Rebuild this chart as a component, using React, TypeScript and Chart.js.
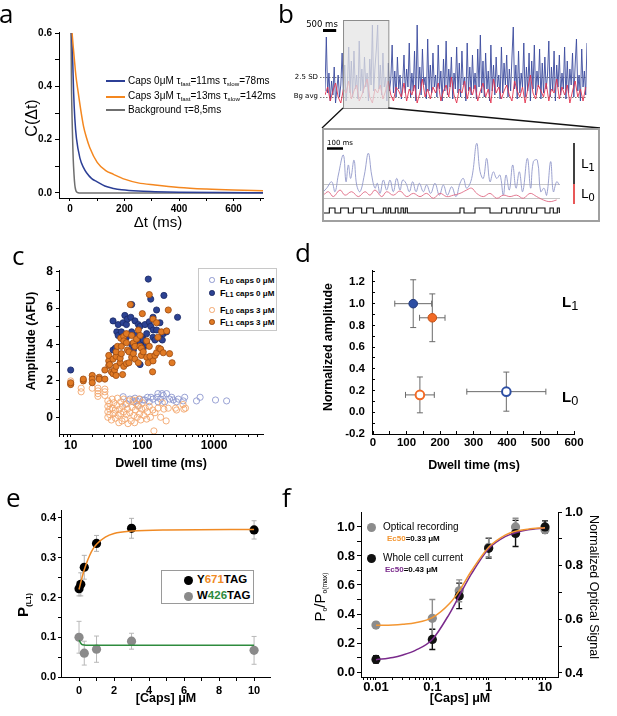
import React, { useEffect, useRef } from "react";
import { Chart, registerables } from "chart.js";

Chart.register(...registerables);
const SANS = "'Liberation Sans', Arial, Helvetica, sans-serif";
const DEJAVU = "'DejaVu Sans', sans-serif";
const OPEN = "'Open Sans', 'DejaVu Sans', sans-serif";
Chart.defaults.font.family = SANS;

// ---------------- Panel a : autocorrelation ----------------
const aTimeTicks = [0, 100, 200, 300, 400, 500, 600, 700];
const aTimeLabels = [0, 200, 400, 600];
const aCTicks = [0, 0.1, 0.2, 0.3, 0.4, 0.5, 0.6];
const aCLabels = [0, 0.2, 0.4, 0.6];
const aCaps0X = [6, 10, 13.5, 18, 24, 37, 50, 61, 80, 100, 128, 160, 190, 250, 312, 400, 550, 710];
const aCaps0Y = [0.6, 0.505, 0.38, 0.28, 0.205, 0.13, 0.095, 0.076, 0.054, 0.042, 0.026, 0.017, 0.012, 0.007, 0.005, 0.003, 0.0015, 0.001];
const aCaps3X = [8, 12, 16, 22, 30, 40, 50, 60, 73, 100, 130, 160, 200, 250, 312, 400, 500, 600, 710];
const aCaps3Y = [0.6, 0.55, 0.505, 0.44, 0.38, 0.31, 0.25, 0.21, 0.17, 0.115, 0.085, 0.07, 0.052, 0.038, 0.03, 0.021, 0.015, 0.011, 0.008];
const aBgX = [4, 5, 6, 8, 10, 12, 15, 18, 21, 24, 30, 40, 710];
const aBgY = [0.6, 0.5, 0.38, 0.28, 0.2, 0.13, 0.07, 0.03, 0.012, 0.005, 0.001, 0, 0];

// ---------------- Panel b : traces ----------------
const bTopBlue = [
  0.3, 3.0, 0.2, 1.2, -0.2, 0.8, 0.1, 1.5, -0.3, 0.4, 1.1, 0.0, 0.6, 2.2, 0.1, 1.6, -0.2, 0.5, 2.5, 0.2,
  1.8, 0.0, 2.3, 0.4, 1.1, -0.1, 2.8, 0.3, 1.4, 0.2, 2.0, 0.5, 1.2, -0.2, 1.9, 0.6, 3.6, 0.3, 1.5, 2.4,
  3.6, 0.4, 1.6, 0.1, 2.2, 0.5, 1.0, -0.2, 1.7, 0.3, 0.9, 2.6, 0.2, 1.3, 0.0, 2.0, 0.4, 1.1, -0.1, 0.7,
  2.1, 0.2, 1.4, 0.5, 2.7, 0.0, 1.2, 0.3, 2.3, -0.2, 3.6, 0.4, 1.5, 0.1, 2.4, 0.6, 1.0, -0.1, 2.9, 0.3,
  1.6, 0.2, 2.2, 0.5, 1.1, 0.0, 2.6, 0.4, 1.3, -0.2, 1.9, 0.3, 2.8, 0.1, 1.4, 0.5, 2.0, -0.1, 1.2, 0.4,
  2.5, 0.2, 1.7, 0.0, 2.3, 0.6, 1.0, -0.2, 2.7, 0.3, 1.5, 0.1, 2.1, 0.4, 1.2, -0.1, 2.4, 0.5, 3.1, 0.2,
  1.8, 0.0, 2.2, 0.4, 1.3, -0.2, 2.6, 0.3, 1.6, 0.1, 2.0, 0.5, 1.1, -0.1, 2.5, 0.2, 1.7, 0.6, 2.1, 0.0,
  1.4, 0.3, 2.0, 3.5, 0.4, 1.6, -0.1, 2.3, 0.2, 1.2, 0.5, 2.7, 0.0, 1.5, 0.3, 2.2, -0.2, 1.8, 0.4, 2.6,
  0.1, 1.3, 0.5, 2.4, -0.1, 1.7, 0.2, 2.0, 0.4, 1.1, 2.8, 0.0, 1.5, 0.3, 2.3, -0.2, 1.6, 0.5, 2.1, 0.1,
  1.2, 0.4, 2.5, -0.1, 1.8, 0.2, 1.4, 0.6, 2.2, 0.0, 1.6, 2.9, 0.3, 1.1, -0.2, 2.4, 0.5, 1.3, 0.1, 2.7,
];
const bTopRed = [
  0.1, 0.5, -0.2, 0.3, 0.7, 0.0, -0.3, 0.4, 0.2, 0.8, -0.1, 0.3, 0.6, -0.2, 0.1, 0.5, 0.9, 0.0, -0.3, 0.4,
  0.2, 0.6, -0.1, 0.3, 0.8, 0.1, -0.2, 0.5, 0.3, 0.0, 0.7, -0.2, 0.4, 0.1, 0.6, -0.3, 0.2, 0.9, 0.0, 0.4,
  -0.1, 0.5, 0.2, 0.7, -0.2, 0.3, 0.6, 0.0, 1.0, 0.1, -0.3, 0.4, 0.2, 0.8, -0.1, 0.5, 0.1, 0.6, -0.2, 0.3,
  0.7, 0.0, 0.4, -0.3, 0.9, 0.2, 0.5, -0.1, 0.3, 0.6, 0.1, -0.2, 0.8, 0.3, 0.0, 0.5, -0.3, 0.4, 1.1, 0.2,
  -0.1, 0.6, 0.3, 0.0, 0.7, -0.2, 0.4, 0.2, 0.9, -0.1, 0.5, 0.1, 0.6, -0.3, 0.3, 0.8, 0.0, 0.4, -0.2, 0.5,
];
const bRedSpacing = 2;
const bLevels = [0, 1]; // Bg avg, 2.5 SD
const bZoomWindow = [13.7, 48.1];
const bScaleBar500 = [-1.5, 8.5];

const bInsetBlueX = [10, 20, 35, 45, 55, 70, 78, 85, 92, 102, 110, 120, 133, 145, 155, 165, 172, 180, 190, 200, 210, 220, 230, 240, 248, 258, 268, 278, 288, 298, 310, 320, 332, 345, 358, 370, 382, 395, 408, 420, 430, 440, 455, 470, 480, 490, 500, 510, 520, 530, 540, 550, 558, 568, 578, 588, 598, 608, 622, 632, 640, 652, 662, 672, 680, 692, 700, 710, 718];
const bInsetBlueY = [0.45, 0.7, 1.16, 0.45, 1.64, 3.07, 1.16, 2.36, 1.4, 2.7, 0.93, 0.45, 1.64, 3.2, 1.64, 0.7, 1.05, 0.33, 1.28, 0.57, 1.28, 0.45, 1.4, 0.57, 1.28, 1.05, 0.45, 1.16, 0.45, 1.05, 0.45, 0.93, 0.33, 1.05, 0.2, 0.93, 0.2, 0.8, 0.1, 1.05, 1.4, 0.7, 1.4, 3.9, 1.9, 1.4, 2.83, 1.16, 1.87, 1.4, 1.64, 0.2, 1.64, 0.57, 2.36, 0.7, 1.87, 0.45, 2.83, 0.7, 2.6, 2.7, 0.45, 0.7, 0.2, 2.6, 0.45, 1.16, 0.93];
const bInsetRedX = [10, 25, 40, 60, 75, 95, 115, 135, 150, 165, 185, 200, 220, 240, 260, 280, 300, 320, 340, 360, 380, 400, 420, 440, 455, 470, 490, 510, 530, 550, 570, 590, 610, 630, 650, 670, 690, 710];
const bInsetRedY = [0.2, 0.45, 0.1, 0.57, 0.2, 0.45, 0.1, 0.45, 0.2, 0.57, 0.1, 0.45, 0.2, 0.5, 0.1, 0.33, 0.1, 0.33, -0.02, 0.33, 0.1, 0.2, 0.33, 0.57, 0.7, 0.33, 0.1, 0.33, -0.02, 0.2, 0.1, 0.2, -0.02, 0.33, 0.1, -0.14, -0.26, -0.14];
const bStepX = [12, 28, 45, 62, 85, 100, 125, 140, 160, 190, 198, 205, 212, 226, 234, 243, 250, 256, 262, 420, 432, 465, 510, 545, 560, 575, 590, 600, 612, 620, 635, 650, 675, 690, 700, 712, 718];
const bStepLevel = [0, 1, 0, 1, 0, 1, 0, 1, 0, 1, 0, 1, 0, 1, 0, 1, 0, 1, 0, 1, 0, 1, 0, 1, 0, 1, 0, 1, 0, 1, 0, 1, 0, 1, 0, 1, 0];
const bInsetL1Bar = [1, 3.93];
const bInsetL0Bar = [-0.43, 1];
const bScaleBar100 = [21, 69];

// ---------------- Panel c : amplitude vs dwell ----------------
const cDwellTicks = [7, 8, 9, 10, 20, 30, 40, 50, 60, 70, 80, 90, 100, 200, 300, 400, 500, 600, 700, 800, 900, 1000, 2000, 3000, 4000];
const cDwellLabels = [10, 100, 1000];
const cAmpTicks = [0, 1, 2, 3, 4, 5, 6, 7, 8];
const cAmpLabels = [0, 2, 4, 6, 8];
const cL1Caps0 = [[10, 2.6], [39, 5.3], [39, 3.7], [42, 3.8], [44, 4.7], [46, 4.5], [46, 5.1], [51, 4.7], [51, 4.4], [54, 5.2], [57, 5.6], [60, 5.1], [60, 4.4], [62, 5.4], [69, 5.5], [71, 6.2], [71, 4.7], [71, 4.0], [75, 3.7], [79, 5.3], [83, 4.5], [83, 4.1], [88, 5.1], [93, 5.0], [93, 2.9], [94, 4.1], [100, 4.4], [103, 3.8], [103, 4.25], [109, 5.1], [113, 4.1], [115, 4.6], [115, 4.0], [121, 7.6], [125, 5.25], [131, 6.5], [131, 5.0], [141, 4.4], [141, 5.5], [142, 4.8], [150, 4.25], [158, 5.9], [158, 4.8], [176, 5.2], [176, 4.35], [190, 4.25], [196, 4.6], [200, 6.7], [218, 4.7], [310, 5.5]];
const cL1Caps3 = [[10, 1.8], [10, 1.9], [15, 2.0], [15, 2.1], [20, 2.3], [20, 2.1], [20, 1.9], [25, 2.2], [25, 2.1], [30, 2.1], [30, 2.6], [34, 3.1], [34, 2.85], [34, 3.4], [35, 2.9], [37, 2.5], [39, 2.4], [39, 3.2], [41, 2.6], [43, 2.3], [43, 2.8], [43, 3.35], [43, 3.6], [45, 3.9], [49, 3.0], [49, 3.25], [50, 4.35], [51, 3.5], [51, 3.9], [53, 2.35], [55, 4.45], [55, 4.2], [55, 2.8], [60, 4.1], [60, 4.6], [60, 2.95], [62, 3.7], [65, 3.0], [65, 3.6], [68, 6.2], [71, 3.3], [71, 4.5], [75, 3.5], [75, 4.1], [79, 3.9], [79, 3.2], [83, 4.3], [88, 4.8], [88, 3.0], [93, 3.9], [93, 4.5], [97, 3.4], [97, 3.8], [100, 5.7], [103, 3.6], [115, 3.3], [115, 4.2], [121, 3.0], [125, 3.9], [125, 6.75], [128, 3.35], [139, 2.5], [141, 3.1], [141, 5.4], [150, 3.4], [158, 3.55], [158, 5.2], [165, 4.4], [170, 3.8], [180, 3.75], [185, 4.7], [196, 3.55], [218, 4.75], [230, 5.9], [240, 3.5], [260, 3.0]];
const cL0Caps3 = [[10, 2.0], [10, 1.85], [14, 1.6], [14, 1.4], [20, 1.6], [24, 1.6], [24, 1.45], [24, 1.3], [24, 1.15], [30, 1.55], [30, 1.4], [30, 1.2], [33, 0.9], [33, 0.6], [33, 0.3], [33, 0.0], [35, 0.75], [35, 0.45], [35, 0.15], [37, -0.15], [38, 1.0], [38, 0.5], [40, 0.2], [40, 0.8], [42, -0.05], [42, 0.4], [44, 0.65], [45, 1.05], [46, 0.1], [47, -0.3], [48, 0.45], [50, 0.85], [50, 0.2], [52, -0.2], [53, 0.6], [55, 1.0], [55, 0.3], [57, -0.1], [58, 0.7], [60, 0.15], [62, 0.45], [63, -0.35], [65, 0.9], [67, 0.25], [70, -0.2], [72, 0.55], [74, 0.95], [76, 0.1], [78, -0.3], [80, 0.4], [82, 0.75], [85, 0.0], [88, 0.6], [90, 1.0], [92, 0.2], [95, -0.15], [98, 0.45], [100, 0.8], [105, 0.1], [110, 0.5], [115, -0.1], [118, 0.3], [125, 0.6], [130, 0.0], [140, 0.4], [145, -0.75], [150, 0.25], [165, 0.5], [180, 0.0], [190, 0.8], [200, 0.45], [215, -0.2], [230, 0.5], [290, 0.5], [300, 0.4], [370, 0.7], [380, 0.45], [400, 0.5]];
const cL0Caps0 = [[54, 1.13], [60, 0.75], [67, 1.0], [75, 0.85], [79, 1.05], [83, 0.9], [88, 0.65], [92, 1.0], [103, 0.95], [108, 0.95], [118, 1.1], [125, 0.85], [132, 1.1], [141, 1.0], [160, 1.1], [165, 1.3], [166, 0.85], [180, 1.0], [188, 1.3], [196, 1.2], [205, 0.85], [218, 1.3], [240, 1.0], [257, 1.1], [270, 0.95], [300, 0.85], [318, 1.0], [372, 0.9], [390, 1.1], [570, 0.9], [640, 1.1], [1050, 0.95], [1500, 0.9]];

// ---------------- Panel d : normalized amplitude ----------------
const dTimeTicks = [0, 50, 100, 150, 200, 250, 300, 350, 400, 450, 500, 550, 600];
const dTimeLabels = [0, 100, 200, 300, 400, 500, 600];
const dAmpTicks = [-0.2, -0.1, 0, 0.1, 0.2, 0.3, 0.4, 0.5, 0.6, 0.7, 0.8, 0.9, 1.0, 1.1, 1.2, 1.3];
const dAmpLabels = [-0.2, 0, 0.2, 0.4, 0.6, 0.8, 1.0, 1.2];
const dDwell = [120, 177, 140, 398];
const dDwellErr = [55, 38, 43, 118];
const dAmp = [1.0, 0.87, 0.16, 0.19];
const dAmpErr = [0.22, 0.22, 0.165, 0.18];

// ---------------- Panel e : P(L1) ----------------
const eCapsTicks = [0, 1, 2, 3, 4, 5, 6, 7, 8, 9, 10];
const eCapsLabels = [0, 2, 4, 6, 8, 10];
const ePTicks = [0, 0.05, 0.1, 0.15, 0.2, 0.25, 0.3, 0.35, 0.4];
const ePLabels = [0, 0.1, 0.2, 0.3, 0.4];
const eCapsY = [0, 0.1, 0.3, 1, 3, 10];
const eY671 = [0.222, 0.233, 0.276, 0.336, 0.374, 0.37];
const eY671Err = [0.018, 0.029, 0.03, 0.02, 0.025, 0.023];
const eCapsW = [0, 0.3, 1, 3, 10];
const eW426 = [0.1, 0.06, 0.07, 0.09, 0.067];
const eW426Err = [0.04, 0.03, 0.033, 0.02, 0.035];
const eFitYX = [0, 0.1, 0.2, 0.4, 0.6, 0.8, 1, 1.5, 2, 3, 5, 10];
const eFitY = [0.22, 0.238, 0.255, 0.283, 0.305, 0.322, 0.334, 0.352, 0.361, 0.367, 0.37, 0.371];
const eFitWX = [0, 0.1, 0.2, 0.4, 10];
const eFitW = [0.093, 0.085, 0.081, 0.08, 0.08];

// ---------------- Panel f : dose response ----------------
const fCapsTicks = [0.006, 0.007, 0.008, 0.009, 0.01, 0.02, 0.03, 0.04, 0.05, 0.06, 0.07, 0.08, 0.09, 0.1, 0.2, 0.3, 0.4, 0.5, 0.6, 0.7, 0.8, 0.9, 1, 2, 3, 4, 5, 6, 7, 8, 9, 10];
const fCapsLabels = [0.01, 0.1, 1, 10];
const fPTicks = [0, 0.1, 0.2, 0.3, 0.4, 0.5, 0.6, 0.7, 0.8, 0.9, 1.0];
const fPLabels = [0, 0.2, 0.4, 0.6, 0.8, 1.0];
const fSigTicks = [0.4, 0.5, 0.6, 0.7, 0.8, 0.9, 1.0];
const fSigLabels = [0.4, 0.6, 0.8, 1.0];
const fCaps = [0.01, 0.1, 0.3, 1, 3, 10];
const fOptical = [0.324, 0.37, 0.56, 0.86, 1.0, 0.98];
const fOpticalErr = [0.02, 0.13, 0.075, 0.065, 0.06, 0.02];
const fCurrent = [0.087, 0.225, 0.525, 0.853, 0.955, 1.0];
const fCurrentErr = [0.025, 0.07, 0.088, 0.068, 0.09, 0.042];
const fFitX = [0.01, 0.02, 0.03, 0.05, 0.1, 0.2, 0.3, 0.5, 1, 2, 3, 5, 10];
const fFitOptical = [0.322, 0.325, 0.33, 0.34, 0.375, 0.47, 0.56, 0.7, 0.86, 0.945, 0.97, 0.985, 0.995];
const fFitCurrent = [0.085, 0.1, 0.118, 0.15, 0.225, 0.4, 0.525, 0.68, 0.85, 0.935, 0.96, 0.98, 0.993];

// ---------------- helpers ----------------
type Area = { cx: number; cy: number; cw: number; ch: number; l: number; t: number; r: number; b: number };
const AREA: Record<string, Area> = {
  a: { cx: 0, cy: 20, cw: 300, ch: 215, l: 59, t: 32, r: 263, b: 198 },
  c: { cx: 0, cy: 240, cw: 300, ch: 235, l: 59, t: 270, r: 263, b: 434 },
  d: { cx: 300, cy: 240, cw: 317, ch: 235, l: 372, t: 270, r: 574, b: 434 },
  e: { cx: 0, cy: 480, cw: 300, ch: 236, l: 61, t: 510, r: 270, b: 677 },
  f: { cx: 300, cy: 480, cw: 317, ch: 236, l: 361, t: 512, r: 558, b: 677 },
};

const pick = (labels: number[], fmt: (v: number) => string) => (v: any) => {
  const n = Number(v);
  return labels.some((l) => Math.abs(l - n) < 1e-9) ? fmt(n) : "";
};
const fitY = (w: number) => (s: any) => { s.width = w; s.paddingTop = 0; s.paddingBottom = 0; };
const fitX = (h: number) => (s: any) => { s.height = h; s.paddingLeft = 0; s.paddingRight = 0; };

function ax(o: any) {
  return {
    type: o.type || "linear",
    position: o.position,
    min: o.min,
    max: o.max,
    afterBuildTicks: (s: any) => { s.ticks = o.ticks.map((v: number) => ({ value: v })); },
    afterFit: o.fit,
    grid: { display: true, drawOnChartArea: false, drawTicks: true, tickLength: o.tl ?? 4, color: "#000", lineWidth: 1 },
    border: { display: true, color: "#000", width: 1 },
    ticks: {
      autoSkip: false, maxRotation: 0, minRotation: 0, padding: o.pad ?? 2, color: "#000",
      font: { family: SANS, size: o.size, weight: "bold" }, callback: o.label,
    },
  };
}

function baseOpts(a: Area, rightAxis: boolean, scales: any, plugins: any = {}) {
  return {
    responsive: false, maintainAspectRatio: false, animation: false, events: [],
    layout: { padding: { left: 0, bottom: 0, top: a.t - a.cy, right: rightAxis ? 0 : a.cx + a.cw - a.r } },
    plugins: { legend: { display: false }, tooltip: { enabled: false }, ...plugins },
    scales,
  };
}

const pts = (xs: number[], ys: number[]) => xs.map((x, i) => ({ x, y: ys[i] }));
const curve = (xs: number[], ys: number[], color: string, order: number, extra: any = {}) => ({
  data: pts(xs, ys), showLine: true, borderColor: color, borderWidth: 1.5, pointRadius: 0,
  cubicInterpolationMode: "monotone", fill: false, order, ...extra,
});

const errorBars = {
  id: "errorBars",
  beforeDatasetsDraw(chart: any) {
    const { ctx } = chart;
    chart.data.datasets.forEach((ds: any, i: number) => {
      if (!ds.yErr && !ds.xErr) return;
      const meta = chart.getDatasetMeta(i);
      const xs = chart.scales[meta.xAxisID];
      const ys = chart.scales[meta.yAxisID];
      const cap = ds.errCap ?? 3;
      ctx.save();
      ctx.strokeStyle = ds.errColor || "#777";
      ctx.lineWidth = ds.errWidth || 1;
      ds.data.forEach((p: any, j: number) => {
        const px = xs.getPixelForValue(p.x);
        const py = ys.getPixelForValue(p.y);
        ctx.beginPath();
        if (ds.yErr) {
          const t = ys.getPixelForValue(p.y + ds.yErr[j]);
          const b = ys.getPixelForValue(p.y - ds.yErr[j]);
          ctx.moveTo(px, t); ctx.lineTo(px, b);
          ctx.moveTo(px - cap, t); ctx.lineTo(px + cap, t);
          ctx.moveTo(px - cap, b); ctx.lineTo(px + cap, b);
        }
        if (ds.xErr) {
          const l = xs.getPixelForValue(p.x - ds.xErr[j]);
          const r = xs.getPixelForValue(p.x + ds.xErr[j]);
          ctx.moveTo(l, py); ctx.lineTo(r, py);
          ctx.moveTo(l, py - cap); ctx.lineTo(l, py + cap);
          ctx.moveTo(r, py - cap); ctx.lineTo(r, py + cap);
        }
        ctx.stroke();
      });
      ctx.restore();
    });
  },
};

// ---------------- chart configs ----------------
function cfgA() {
  const a = AREA.a;
  return {
    type: "scatter",
    data: {
      datasets: [
        curve(aCaps3X, aCaps3Y, "#f4871f", 0),
        curve(aCaps0X, aCaps0Y, "#2c3f96", 1),
        curve(aBgX, aBgY, "#6f6f6f", 2, { cubicInterpolationMode: "default", tension: 0.3 }),
      ],
    },
    options: baseOpts(a, false, {
      x: ax({ position: "bottom", min: -40, max: 708, ticks: aTimeTicks, label: pick(aTimeLabels, (v) => String(v)), size: 10, tl: 3, pad: 2, fit: fitX(a.cy + a.ch - a.b) }),
      y: ax({ position: "left", min: -0.0188, max: 0.604, ticks: aCTicks, label: pick(aCLabels, (v) => v.toFixed(1)), size: 10, tl: 4, pad: 3, fit: fitY(a.l - a.cx) }),
    }),
  };
}

function cfgBTop() {
  const plugin = {
    id: "bTop",
    beforeDatasetsDraw(chart: any) {
      const { ctx, chartArea: ca, scales } = chart;
      ctx.save();
      ctx.strokeStyle = "#555";
      ctx.lineWidth = 0.8;
      ctx.setLineDash([1.5, 1.5]);
      bLevels.forEach((v) => {
        const py = Math.round(scales.y.getPixelForValue(v)) + 0.5;
        ctx.beginPath(); ctx.moveTo(ca.left - 5, py); ctx.lineTo(ca.right, py); ctx.stroke();
      });
      ctx.restore();
    },
    afterDatasetsDraw(chart: any) {
      const { ctx, chartArea: ca, scales } = chart;
      const x0 = scales.x.getPixelForValue(bZoomWindow[0]);
      const x1 = scales.x.getPixelForValue(bZoomWindow[1]);
      ctx.save();
      ctx.fillStyle = "rgba(228,228,228,0.74)";
      ctx.fillRect(x0, ca.top, x1 - x0, ca.bottom - ca.top);
      ctx.strokeStyle = "#8c8c8c";
      ctx.lineWidth = 1;
      ctx.strokeRect(x0 + 0.5, ca.top + 0.5, x1 - x0, ca.bottom - ca.top);
      ctx.strokeStyle = "#111";
      ctx.lineWidth = 1.3;
      ctx.beginPath();
      ctx.moveTo(x0, ca.bottom); ctx.lineTo(22, 128);
      ctx.moveTo(x1, ca.bottom); ctx.lineTo(300, 128);
      ctx.stroke();
      ctx.strokeStyle = "#a0a0a0";
      ctx.lineWidth = 2;
      ctx.strokeRect(23, 129, 276, 92);
      ctx.strokeStyle = "#000";
      ctx.lineWidth = 3;
      ctx.beginPath();
      ctx.moveTo(scales.x.getPixelForValue(bScaleBar500[0]), 30.5);
      ctx.lineTo(scales.x.getPixelForValue(bScaleBar500[1]), 30.5);
      ctx.stroke();
      ctx.restore();
    },
  };
  return {
    type: "scatter",
    data: {
      datasets: [
        { data: bTopRed.map((v, i) => ({ x: i * bRedSpacing, y: v })), showLine: true, borderColor: "#e3334f", borderWidth: 0.9, pointRadius: 0, order: 0 },
        { data: bTopBlue.map((v, i) => ({ x: i, y: v })), showLine: true, borderColor: "#3b4b9e", borderWidth: 0.9, pointRadius: 0, order: 1 },
      ],
    },
    options: {
      responsive: false, maintainAspectRatio: false, animation: false, events: [],
      layout: { padding: { left: 25, top: 20, right: 30, bottom: 124 } },
      plugins: { legend: { display: false }, tooltip: { enabled: false } },
      scales: {
        x: { type: "linear", display: false, min: 0, max: 199 },
        y: { type: "linear", display: false, min: -0.55, max: 3.85 },
      },
    },
    plugins: [plugin],
  };
}

function cfgBInset() {
  const plugin = {
    id: "bInset",
    beforeDatasetsDraw(chart: any) {
      const { ctx, chartArea: ca, scales } = chart;
      ctx.save();
      ctx.strokeStyle = "#b8b8b8";
      ctx.lineWidth = 0.8;
      bLevels.forEach((v) => {
        const py = Math.round(scales.y.getPixelForValue(v)) + 0.5;
        ctx.beginPath(); ctx.moveTo(ca.left, py); ctx.lineTo(ca.right, py); ctx.stroke();
      });
      ctx.restore();
    },
    afterDatasetsDraw(chart: any) {
      const { ctx, chartArea: ca, scales } = chart;
      const bx = ca.right + 14;
      ctx.save();
      ctx.lineWidth = 1.5;
      ctx.strokeStyle = "#000";
      ctx.beginPath();
      ctx.moveTo(bx, scales.y.getPixelForValue(bInsetL1Bar[0]));
      ctx.lineTo(bx, scales.y.getPixelForValue(bInsetL1Bar[1]));
      ctx.stroke();
      ctx.strokeStyle = "#e02020";
      ctx.beginPath();
      ctx.moveTo(bx, scales.y.getPixelForValue(bInsetL0Bar[0]));
      ctx.lineTo(bx, scales.y.getPixelForValue(bInsetL0Bar[1]));
      ctx.stroke();
      ctx.strokeStyle = "#000";
      ctx.lineWidth = 2.5;
      ctx.beginPath();
      ctx.moveTo(scales.x.getPixelForValue(bScaleBar100[0]), 17.5);
      ctx.lineTo(scales.x.getPixelForValue(bScaleBar100[1]), 17.5);
      ctx.stroke();
      ctx.restore();
    },
  };
  return {
    type: "scatter",
    data: {
      datasets: [
        { data: pts(bStepX, bStepLevel), showLine: true, stepped: "before", borderColor: "#111", borderWidth: 1.1, pointRadius: 0, yAxisID: "ys", order: 0 },
        { data: pts(bInsetRedX, bInsetRedY), showLine: true, borderColor: "#e06a85", borderWidth: 0.9, pointRadius: 0, tension: 0.4, order: 1 },
        { data: pts(bInsetBlueX, bInsetBlueY), showLine: true, borderColor: "#9197c9", borderWidth: 0.9, pointRadius: 0, tension: 0.4, order: 2 },
      ],
    },
    options: {
      responsive: false, maintainAspectRatio: false, animation: false, events: [],
      layout: { padding: { left: 0, top: 7, right: 38, bottom: 4 } },
      plugins: { legend: { display: false }, tooltip: { enabled: false } },
      scales: {
        x: { type: "linear", display: false, min: 12, max: 720 },
        y: { type: "linear", display: false, min: -1.286, max: 4.286 },
        ys: { type: "linear", display: false, min: -0.6, max: 15 },
      },
    },
    plugins: [plugin],
  };
}

function cfgC() {
  const a = AREA.c;
  const sc = (data: number[][], fill: string, stroke: string, order: number, bw: number) => ({
    data: data.map(([x, y]) => ({ x, y })), pointRadius: 3.1, pointBackgroundColor: fill, pointBorderColor: stroke, pointBorderWidth: bw, order,
  });
  return {
    type: "scatter",
    data: {
      datasets: [
        sc(cL1Caps3, "#e07a24", "#9a4a12", 0, 0.8),
        sc(cL1Caps0, "#2c4292", "#1b2a66", 1, 0.8),
        sc(cL0Caps3, "rgba(0,0,0,0)", "#f3a76e", 2, 0.9),
        sc(cL0Caps0, "rgba(0,0,0,0)", "#8e98cf", 3, 0.9),
      ],
    },
    options: baseOpts(a, false, {
      x: ax({ type: "logarithmic", position: "bottom", min: 6.87, max: 4830, ticks: cDwellTicks, label: pick(cDwellLabels, (v) => String(v)), size: 12, tl: 3, pad: 1, fit: fitX(a.cy + a.ch - a.b) }),
      y: ax({ position: "left", min: -0.92, max: 8.1, ticks: cAmpTicks, label: pick(cAmpLabels, (v) => String(v)), size: 12, tl: 3, pad: 3, fit: fitY(a.l - a.cx) }),
    }),
  };
}

function cfgD() {
  const a = AREA.d;
  const styles = [
    { fill: "#2d4ea3", stroke: "#22397a" },
    { fill: "#f26a26", stroke: "#c44f12" },
    { fill: "#ffffff", stroke: "#f26a26" },
    { fill: "#ffffff", stroke: "#2d4ea3" },
  ];
  return {
    type: "scatter",
    data: {
      datasets: dDwell.map((x, i) => ({
        data: [{ x, y: dAmp[i] }], xErr: [dDwellErr[i]], yErr: [dAmpErr[i]], errColor: "#6a6a6a", errCap: 3,
        pointRadius: 4.3, pointBackgroundColor: styles[i].fill, pointBorderColor: styles[i].stroke, pointBorderWidth: i >= 2 ? 2 : 1,
      })),
    },
    options: baseOpts(a, false, {
      x: ax({ position: "bottom", min: -3, max: 600, ticks: dTimeTicks, label: pick(dTimeLabels, (v) => String(v)), size: 11.5, tl: -3, pad: 5, fit: fitX(a.cy + a.ch - a.b) }),
      y: ax({ position: "left", min: -0.2, max: 1.31, ticks: dAmpTicks, label: pick(dAmpLabels, (v) => v.toFixed(1)), size: 11.5, tl: -3, pad: 10, fit: fitY(a.l - a.cx) }),
    }),
    plugins: [errorBars],
  };
}

function cfgE() {
  const a = AREA.e;
  return {
    type: "scatter",
    data: {
      datasets: [
        curve(eFitYX, eFitY, "#f08a24", 0),
        curve(eFitWX, eFitW, "#2e8b3e", 1),
        { data: pts(eCapsY, eY671), yErr: eY671Err, errColor: "#b0b0b0", errCap: 2.5, pointRadius: 4.6, pointBackgroundColor: "#000", pointBorderColor: "#000", pointBorderWidth: 0, order: 2 },
        { data: pts(eCapsW, eW426), yErr: eW426Err, errColor: "#b8b8b8", errCap: 2.5, pointRadius: 4.6, pointBackgroundColor: "#8a8a8a", pointBorderColor: "#8a8a8a", pointBorderWidth: 0, order: 3 },
      ],
    },
    options: baseOpts(a, false, {
      x: ax({ position: "bottom", min: -1.03, max: 10.91, ticks: eCapsTicks, label: pick(eCapsLabels, (v) => String(v)), size: 11, tl: 4, pad: 3, fit: fitX(a.cy + a.ch - a.b) }),
      y: ax({ position: "left", min: 0, max: 0.42, ticks: ePTicks, label: pick(ePLabels, (v) => v.toFixed(1)), size: 11, tl: 3, pad: 2, fit: fitY(a.l - a.cx) }),
    }),
    plugins: [errorBars],
  };
}

function cfgF() {
  const a = AREA.f;
  return {
    type: "scatter",
    data: {
      datasets: [
        curve(fFitX, fFitOptical, "#f39632", 0),
        curve(fFitX, fFitCurrent, "#7a2a8c", 1),
        { data: pts(fCaps, fCurrent), yErr: fCurrentErr, errColor: "#111", errWidth: 1.4, errCap: 3, pointRadius: 4.6, pointBackgroundColor: "#111", pointBorderColor: "#111", pointBorderWidth: 0, order: 2 },
        { data: pts(fCaps, fOptical), yErr: fOpticalErr, errColor: "#8f8f8f", errWidth: 1.4, errCap: 3, pointRadius: 4.6, pointBackgroundColor: "#8c8c8c", pointBorderColor: "#8c8c8c", pointBorderWidth: 0, order: 3 },
      ],
    },
    options: baseOpts(a, true, {
      x: ax({ type: "logarithmic", position: "bottom", min: 0.00542, max: 17, ticks: fCapsTicks, label: pick(fCapsLabels, (v) => String(v)), size: 13, tl: 3, pad: 0, fit: fitX(a.cy + a.ch - a.b) }),
      y: ax({ position: "left", min: -0.034, max: 1.103, ticks: fPTicks, label: pick(fPLabels, (v) => v.toFixed(1)), size: 13, tl: 4, pad: 2, fit: fitY(a.l - a.cx) }),
      y2: ax({ position: "right", min: 0.385, max: 1.0, ticks: fSigTicks, label: pick(fSigLabels, (v) => v.toFixed(1)), size: 13, tl: 4, pad: 3, fit: fitY(a.cx + a.cw - a.r) }),
    }),
    plugins: [errorBars],
  };
}

// ---------------- React pieces ----------------
function ChartCanvas({ x, y, w, h, build }: any) {
  const ref = useRef<HTMLCanvasElement>(null);
  useEffect(() => {
    const chart = new Chart(ref.current as any, build());
    return () => chart.destroy();
  }, []);
  return <canvas ref={ref} width={w} height={h} style={{ position: "absolute", left: x, top: y, width: w, height: h }} />;
}
const AreaChart = ({ a, build }: any) => <ChartCanvas x={a.cx} y={a.cy} w={a.cw} h={a.ch} build={build} />;

function Txt({ x, y, size, weight = "normal", color = "#000", family = SANS, anchor = "middle", rotate = 0, children }: any) {
  const tx = anchor === "start" ? "0%" : anchor === "end" ? "-100%" : "-50%";
  return (
    <div style={{ position: "absolute", left: x, top: y, transform: `translate(${tx}, -50%) rotate(${rotate}deg)`, fontSize: size, fontWeight: weight, color, fontFamily: family, whiteSpace: "nowrap", lineHeight: 1 }}>
      {children}
    </div>
  );
}
const Sub = ({ children, s = "0.62em", v = "-0.3em" }: any) => <span style={{ fontSize: s, verticalAlign: v, lineHeight: 0 }}>{children}</span>;
const Dot = ({ x, y, d, fill, stroke, bw = 1 }: any) => (
  <div style={{ position: "absolute", left: x - d / 2, top: y - d / 2, width: d, height: d, boxSizing: "border-box", borderRadius: "50%", background: fill, border: `${bw}px solid ${stroke}` }} />
);
const Line = ({ x1, x2, y, color, w = 2 }: any) => (
  <div style={{ position: "absolute", left: x1, top: y - w / 2, width: x2 - x1, height: w, background: color }} />
);
const Letter = ({ x, y, ch }: any) => <Txt x={x} y={y} size={26} family={OPEN} anchor="start">{ch}</Txt>;

export default function App() {
  return (
    <div style={{ position: "absolute", left: 0, top: 0, width: 617, height: 716, background: "#fff", overflow: "hidden" }}>
      <AreaChart a={AREA.a} build={cfgA} />
      <ChartCanvas x={300} y={0} w={317} h={232} build={cfgBTop} />
      <ChartCanvas x={324} y={131} w={274} h={89} build={cfgBInset} />
      <AreaChart a={AREA.c} build={cfgC} />
      <AreaChart a={AREA.d} build={cfgD} />
      <AreaChart a={AREA.e} build={cfgE} />
      <AreaChart a={AREA.f} build={cfgF} />

      {/* panel letters */}
      <Letter x={-1} y={13} ch="a" />
      <Letter x={278} y={13} ch="b" />
      <Letter x={12} y={255} ch="c" />
      <Letter x={295} y={252} ch="d" />
      <Letter x={6} y={497} ch="e" />
      <Letter x={282} y={497} ch="f" />

      {/* panel a */}
      <Txt x={32} y={118} size={16} rotate={-90}>C(Δt)</Txt>
      <Txt x={158} y={221} size={15}>Δt (ms)</Txt>
      <Line x1={106} x2={125} y={81} color="#2c3f96" />
      <Line x1={106} x2={125} y={97} color="#f4871f" />
      <Line x1={106} x2={125} y={110} color="#6f6f6f" />
      <Txt x={128} y={81} size={10} anchor="start">Caps 0μM τ<Sub>fast</Sub>=11ms τ<Sub>slow</Sub>=78ms</Txt>
      <Txt x={128} y={96} size={10} anchor="start">Caps 3μM τ<Sub>fast</Sub>=13ms τ<Sub>slow</Sub>=142ms</Txt>
      <Txt x={128} y={110} size={10} anchor="start">Background τ=8,5ms</Txt>

      {/* panel b */}
      <Txt x={322} y={23.5} size={8.5} family={DEJAVU}>500 ms</Txt>
      <Txt x={318} y={77} size={7} family={DEJAVU} anchor="end">2.5 SD</Txt>
      <Txt x={318} y={96} size={7} family={DEJAVU} anchor="end">Bg avg</Txt>
      <Txt x={340} y={143} size={7} family={DEJAVU}>100 ms</Txt>
      <Txt x={581} y={163} size={13} family={DEJAVU} anchor="start">L<Sub s="0.8em" v="-0.35em">1</Sub></Txt>
      <Txt x={581} y={193} size={13} family={DEJAVU} anchor="start">L<Sub s="0.8em" v="-0.35em">0</Sub></Txt>

      {/* panel c */}
      <Txt x={31} y={341} size={12.5} weight="bold" rotate={-90}>Amplitude (AFU)</Txt>
      <Txt x={161} y={463} size={12.5} weight="bold">Dwell time (ms)</Txt>
      <div style={{ position: "absolute", left: 198, top: 268, width: 79, height: 63, border: "1px solid #c8c8c8", boxSizing: "border-box", background: "#fff" }} />
      <Dot x={212} y={280} d={5.5} fill="transparent" stroke="#8e98cf" />
      <Dot x={212} y={293} d={5.5} fill="#2c4292" stroke="#1b2a66" />
      <Dot x={212} y={310} d={5.5} fill="transparent" stroke="#f3a76e" />
      <Dot x={212} y={322} d={5.5} fill="#e07a24" stroke="#9a4a12" />
      <Txt x={220} y={280} size={8} weight="bold" anchor="start"><span style={{ fontSize: 9 }}>F</span><Sub s="0.85em" v="-0.25em">L0</Sub> caps 0 μM</Txt>
      <Txt x={220} y={293} size={8} weight="bold" anchor="start"><span style={{ fontSize: 9 }}>F</span><Sub s="0.85em" v="-0.25em">L1</Sub> caps 0 μM</Txt>
      <Txt x={220} y={310} size={8} weight="bold" anchor="start"><span style={{ fontSize: 9 }}>F</span><Sub s="0.85em" v="-0.25em">L0</Sub> caps 3 μM</Txt>
      <Txt x={220} y={322} size={8} weight="bold" anchor="start"><span style={{ fontSize: 9 }}>F</span><Sub s="0.85em" v="-0.25em">L1</Sub> caps 3 μM</Txt>

      {/* panel d */}
      <Txt x={327.5} y={347} size={12.3} weight="bold" rotate={-90}>Normalized amplitude</Txt>
      <Txt x={474} y={465} size={12.5} weight="bold">Dwell time (ms)</Txt>
      <Txt x={562} y={301} size={15} weight="bold" anchor="start">L<Sub s="0.85em" v="-0.3em"><span style={{ fontWeight: "normal" }}>1</span></Sub></Txt>
      <Txt x={562} y={396} size={15} weight="bold" anchor="start">L<Sub s="0.85em" v="-0.3em"><span style={{ fontWeight: "normal" }}>0</span></Sub></Txt>

      {/* panel e */}
      <Txt x={22} y={605} size={15} weight="bold" rotate={-90}>P<Sub s="0.5em" v="-0.4em">(L1)</Sub></Txt>
      <Txt x={166} y={698} size={12.5} weight="bold">[Caps] μM</Txt>
      <div style={{ position: "absolute", left: 161, top: 570, width: 93, height: 34, border: "1px solid #9a9a9a", boxSizing: "border-box", background: "#fff" }} />
      <Dot x={188} y={580} d={9} fill="#000" stroke="#000" bw={0} />
      <Dot x={188} y={596} d={9} fill="#8a8a8a" stroke="#8a8a8a" bw={0} />
      <Txt x={197} y={580} size={11.5} weight="bold" anchor="start">Y<span style={{ color: "#f08a24" }}>671</span>TAG</Txt>
      <Txt x={197} y={596} size={11.5} weight="bold" anchor="start">W<span style={{ color: "#2e8b3e" }}>426</span>TAG</Txt>

      {/* panel f */}
      <Txt x={319} y={597} size={15} rotate={-90}>P<Sub s="0.45em" v="-0.35em">o</Sub>/P<Sub s="0.45em" v="-0.35em">o(max)</Sub></Txt>
      <Txt x={594} y={587} size={12.5} rotate={90}>Normalized Optical Signal</Txt>
      <Txt x={460} y={698} size={12.5} weight="bold">[Caps] μM</Txt>
      <Dot x={371} y={527} d={9} fill="#8c8c8c" stroke="#8c8c8c" bw={0} />
      <Dot x={371} y={558} d={9} fill="#111" stroke="#111" bw={0} />
      <Txt x={383} y={527} size={10} anchor="start">Optical recording</Txt>
      <Txt x={387} y={539} size={8} weight="bold" anchor="start"><span style={{ color: "#f39632" }}>Ec50</span>=0.33 μM</Txt>
      <Txt x={383} y={558} size={10} anchor="start">Whole cell current</Txt>
      <Txt x={385} y={570} size={8} weight="bold" anchor="start"><span style={{ color: "#7a2a8c" }}>Ec50</span>=0.43 μM</Txt>
    </div>
  );
}
